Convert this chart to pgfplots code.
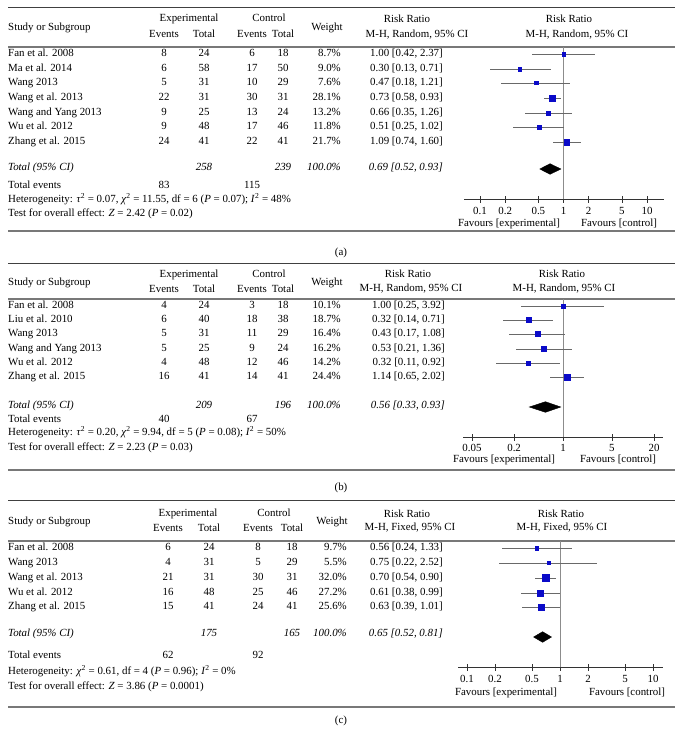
\documentclass[border=0pt]{standalone}
\usepackage{pgfplots}
\pgfplotsset{compat=1.18}
\usepackage{pgfplotstable}
\usepackage{fontspec}
\setmainfont{Liberation Serif}
\definecolor{sqblue}{RGB}{10,10,200}
\definecolor{cigray}{RGB}{105,105,105}
\definecolor{vgray}{RGB}{140,140,140}
\definecolor{rulegray}{RGB}{120,120,120}
\newcommand{\fs}{\fontsize{10.9}{12}\selectfont}

% y column = vertical position of the row (px from top of page)
\pgfplotstableread{
y rr lo hi w
54 1.00 0.42 2.37 8.7
69 0.30 0.13 0.71 9.0
83 0.47 0.18 1.21 7.6
98 0.73 0.58 0.93 28.1
113 0.66 0.35 1.26 13.2
127 0.51 0.25 1.02 11.8
142 1.09 0.74 1.60 21.7
}\dataA
\pgfplotstableread{
y rr lo hi w
306 1.00 0.25 3.92 10.1
320 0.32 0.14 0.71 18.7
334 0.43 0.17 1.08 16.4
349 0.53 0.21 1.36 16.2
363 0.32 0.11 0.92 14.2
377 1.14 0.65 2.02 24.4
}\dataB
\pgfplotstableread{
y rr lo hi w
548 0.56 0.24 1.33 9.7
563 0.75 0.22 2.52 5.5
578 0.70 0.54 0.90 32.0
593 0.61 0.38 0.99 27.2
607 0.63 0.39 1.01 25.6
}\dataC

\pgfplotsset{
  fplot/.style={
    scale only axis, anchor=south west,
    y dir=reverse, axis y line=none, axis x line=bottom,
    axis line style={-, black!80, line width=0.7pt},
    tick align=center, major tick length=7pt,
    tick style={black!80, line width=0.7pt},
    xminorticks=false,
    point meta min=0, point meta max=100,
    /pgf/number format/assume math mode=true,
    xticklabel style={font=\fs, yshift=-5pt},
    clip=false,
  },
  ci/.style={draw=none, mark=none, forget plot,
    error bars/.cd, x dir=both, x explicit, error mark=none,
    error bar style={cigray, line width=0.9pt}},
  sq/.style={only marks, mark=square*, scatter, point meta=\thisrow{w},
    scatter/@pre marker code/.code={%
      \pgfmathsetmacro\ms{0.6*sqrt(\pgfplotspointmetatransformed/10)}%
      \scope[mark size=\ms pt, draw=sqblue, fill=sqblue]},
    scatter/@post marker code/.code={\endscope}},
}

\begin{document}
\begin{tikzpicture}[x=1pt,y=1pt,every node/.style={font=\fs, inner sep=0pt}]
\path (0,0) rectangle (683,-744);

% ---------------- Panel (a) ----------------
\draw[black!75, line width=0.8pt] (8,-7) -- (675,-7);
\draw[rulegray, line width=1.3pt] (8,-47) -- (675,-47);
\draw[rulegray, line width=1.3pt] (8,-231) -- (675,-231);
\node[anchor=mid west] at (8,-28) {Study or Subgroup};
\node[anchor=mid] at (189,-19) {Experimental};
\node[anchor=mid] at (269,-19) {Control};
\node[anchor=mid] at (164,-35) {Events};
\node[anchor=mid] at (204,-35) {Total};
\node[anchor=mid] at (252,-35) {Events};
\node[anchor=mid] at (283,-35) {Total};
\node[anchor=mid] at (327,-28) {Weight};
\node[anchor=mid] at (407,-20) {Risk Ratio};
\node[anchor=mid] at (417,-35) {M-H, Random, 95\% CI};
\node[anchor=mid] at (569,-20) {Risk Ratio};
\node[anchor=mid] at (577,-35) {M-H, Random, 95\% CI};
\foreach \y/\s/\ee/\et/\ce/\ct/\w/\rr in {
  54/Fan et al. 2008/8/24/6/18/8.7/1.00 [0.42{,} 2.37],
  69/Ma et al. 2014/6/58/17/50/9.0/0.30 [0.13{,} 0.71],
  83/Wang 2013/5/31/10/29/7.6/0.47 [0.18{,} 1.21],
  98/Wang et al. 2013/22/31/30/31/28.1/0.73 [0.58{,} 0.93],
  113/Wang and Yang 2013/9/25/13/24/13.2/0.66 [0.35{,} 1.26],
  127/Wu et al. 2012/9/48/17/46/11.8/0.51 [0.25{,} 1.02],
  142/Zhang et al. 2015/24/41/22/41/21.7/1.09 [0.74{,} 1.60]} {
  \node[anchor=mid west] at (8,-\y) {\s};
  \node[anchor=mid] at (164,-\y) {\ee};
  \node[anchor=mid] at (204,-\y) {\et};
  \node[anchor=mid] at (252,-\y) {\ce};
  \node[anchor=mid] at (283,-\y) {\ct};
  \node[anchor=mid east] at (341,-\y) {\w\%};
  \node[anchor=mid east] at (443,-\y) {\rr};
}
\node[anchor=mid west] at (8,-168) {\itshape Total (95\% CI)};
\node[anchor=mid] at (204,-168) {\itshape 258};
\node[anchor=mid] at (283,-168) {\itshape 239};
\node[anchor=mid east] at (341,-168) {\itshape 100.0\%};
\node[anchor=mid east] at (443,-168) {\itshape 0.69 [0.52, 0.93]};
\node[anchor=mid west] at (8,-186) {Total events};
\node[anchor=mid] at (164,-186) {83};
\node[anchor=mid] at (252,-186) {115};
\node[anchor=mid west] at (8,-200) {Heterogeneity: \textit{τ}\textsuperscript{2} = 0.07, \textit{χ}\textsuperscript{2} = 11.55, df = 6 (\textit{P} = 0.07); \textit{I}\textsuperscript{2} = 48\%};
\node[anchor=mid west] at (8,-214) {Test for overall effect: \textit{Z} = 2.42 (\textit{P} = 0.02)};
\node[anchor=mid] at (509,-224) {Favours [experimental]};
\node[anchor=mid] at (619,-224) {Favours [control]};
\node[anchor=mid] at (341,-253) {(a)};

\begin{axis}[fplot, xmode=log, at={(464pt,-199pt)}, width=200pt, height=152pt,
  xmin=0.0643, xmax=15.98, ymin=47, ymax=199,
  xtick={0.1,0.2,0.5,1,2,5,10}, xticklabels={0.1,0.2,0.5,1,2,5,10}]
\addplot[vgray, line width=1pt] coordinates {(1,47) (1,199)};
\addplot[ci] table[x=rr, y=y, x error plus expr=\thisrow{hi}-\thisrow{rr}, x error minus expr=\thisrow{rr}-\thisrow{lo}] {\dataA};
\addplot[sq] table[x=rr, y=y] {\dataA};
\addplot[fill=black, draw=black] coordinates {(0.52,169) (0.69,163.7) (0.93,169) (0.69,174.3)} -- cycle;
\end{axis}

% ---------------- Panel (b) ----------------
\draw[black!75, line width=0.8pt] (8,-263) -- (675,-263);
\draw[rulegray, line width=1.3pt] (8,-299) -- (675,-299);
\draw[rulegray, line width=1.3pt] (8,-470) -- (675,-470);
\node[anchor=mid west] at (8,-283) {Study or Subgroup};
\node[anchor=mid] at (189,-275) {Experimental};
\node[anchor=mid] at (269,-275) {Control};
\node[anchor=mid] at (164,-290) {Events};
\node[anchor=mid] at (204,-290) {Total};
\node[anchor=mid] at (252,-290) {Events};
\node[anchor=mid] at (283,-290) {Total};
\node[anchor=mid] at (327,-283) {Weight};
\node[anchor=mid] at (408,-275) {Risk Ratio};
\node[anchor=mid] at (411,-289) {M-H, Random, 95\% CI};
\node[anchor=mid] at (562,-275) {Risk Ratio};
\node[anchor=mid] at (564,-289) {M-H, Random, 95\% CI};
\foreach \y/\s/\ee/\et/\ce/\ct/\w/\rr in {
  306/Fan et al. 2008/4/24/3/18/10.1/1.00 [0.25{,} 3.92],
  320/Liu et al. 2010/6/40/18/38/18.7/0.32 [0.14{,} 0.71],
  334/Wang 2013/5/31/11/29/16.4/0.43 [0.17{,} 1.08],
  349/Wang and Yang 2013/5/25/9/24/16.2/0.53 [0.21{,} 1.36],
  363/Wu et al. 2012/4/48/12/46/14.2/0.32 [0.11{,} 0.92],
  377/Zhang et al. 2015/16/41/14/41/24.4/1.14 [0.65{,} 2.02]} {
  \node[anchor=mid west] at (8,-\y) {\s};
  \node[anchor=mid] at (164,-\y) {\ee};
  \node[anchor=mid] at (204,-\y) {\et};
  \node[anchor=mid] at (252,-\y) {\ce};
  \node[anchor=mid] at (283,-\y) {\ct};
  \node[anchor=mid east] at (341,-\y) {\w\%};
  \node[anchor=mid east] at (445,-\y) {\rr};
}
\node[anchor=mid west] at (8,-406) {\itshape Total (95\% CI)};
\node[anchor=mid] at (204,-406) {\itshape 209};
\node[anchor=mid] at (283,-406) {\itshape 196};
\node[anchor=mid east] at (341,-406) {\itshape 100.0\%};
\node[anchor=mid east] at (445,-406) {\itshape 0.56 [0.33, 0.93]};
\node[anchor=mid west] at (8,-420) {Total events};
\node[anchor=mid] at (164,-420) {40};
\node[anchor=mid] at (252,-420) {67};
\node[anchor=mid west] at (8,-433) {Heterogeneity: \textit{τ}\textsuperscript{2} = 0.20, \textit{χ}\textsuperscript{2} = 9.94, df = 5 (\textit{P} = 0.08); \textit{I}\textsuperscript{2} = 50\%};
\node[anchor=mid west] at (8,-448) {Test for overall effect: \textit{Z} = 2.23 (\textit{P} = 0.03)};
\node[anchor=mid] at (504,-460) {Favours [experimental]};
\node[anchor=mid] at (618,-460) {Favours [control]};
\node[anchor=mid] at (341,-488) {(b)};

\begin{axis}[fplot, xmode=log, at={(463pt,-437pt)}, width=200pt, height=138pt,
  xmin=0.03718, xmax=26.9, ymin=299, ymax=437,
  xticklabel style={yshift=1.5pt},
  xtick={0.05,0.2,1,5,20}, xticklabels={0.05,0.2,1,5,20}]
\addplot[vgray, line width=1pt] coordinates {(1,299) (1,437)};
\addplot[ci] table[x=rr, y=y, x error plus expr=\thisrow{hi}-\thisrow{rr}, x error minus expr=\thisrow{rr}-\thisrow{lo}] {\dataB};
\addplot[sq] table[x=rr, y=y] {\dataB};
\addplot[fill=black, draw=black] coordinates {(0.33,407) (0.56,401.7) (0.93,407) (0.56,412.3)} -- cycle;
\end{axis}

% ---------------- Panel (c) ----------------
\draw[black!75, line width=0.8pt] (8,-500) -- (675,-500);
\draw[rulegray, line width=1.3pt] (8,-541) -- (675,-541);
\draw[rulegray, line width=1.3pt] (8,-707) -- (675,-707);
\node[anchor=mid west] at (8,-522) {Study or Subgroup};
\node[anchor=mid] at (188,-514) {Experimental};
\node[anchor=mid] at (274,-514) {Control};
\node[anchor=mid] at (168,-529) {Events};
\node[anchor=mid] at (209,-529) {Total};
\node[anchor=mid] at (258,-529) {Events};
\node[anchor=mid] at (292,-529) {Total};
\node[anchor=mid] at (332,-522) {Weight};
\node[anchor=mid] at (407,-515) {Risk Ratio};
\node[anchor=mid] at (410,-528) {M-H, Fixed, 95\% CI};
\node[anchor=mid] at (561,-515) {Risk Ratio};
\node[anchor=mid] at (562,-528) {M-H, Fixed, 95\% CI};
\foreach \y/\s/\ee/\et/\ce/\ct/\w/\rr in {
  548/Fan et al. 2008/6/24/8/18/9.7/0.56 [0.24{,} 1.33],
  563/Wang 2013/4/31/5/29/5.5/0.75 [0.22{,} 2.52],
  578/Wang et al. 2013/21/31/30/31/32.0/0.70 [0.54{,} 0.90],
  593/Wu et al. 2012/16/48/25/46/27.2/0.61 [0.38{,} 0.99],
  607/Zhang et al. 2015/15/41/24/41/25.6/0.63 [0.39{,} 1.01]} {
  \node[anchor=mid west] at (8,-\y) {\s};
  \node[anchor=mid] at (168,-\y) {\ee};
  \node[anchor=mid] at (209,-\y) {\et};
  \node[anchor=mid] at (258,-\y) {\ce};
  \node[anchor=mid] at (292,-\y) {\ct};
  \node[anchor=mid east] at (347,-\y) {\w\%};
  \node[anchor=mid east] at (443,-\y) {\rr};
}
\node[anchor=mid west] at (8,-634) {\itshape Total (95\% CI)};
\node[anchor=mid] at (209,-634) {\itshape 175};
\node[anchor=mid] at (292,-634) {\itshape 165};
\node[anchor=mid east] at (347,-634) {\itshape 100.0\%};
\node[anchor=mid east] at (443,-634) {\itshape 0.65 [0.52, 0.81]};
\node[anchor=mid west] at (8,-656) {Total events};
\node[anchor=mid] at (168,-656) {62};
\node[anchor=mid] at (258,-656) {92};
\node[anchor=mid west] at (8,-672) {Heterogeneity: \textit{χ}\textsuperscript{2} = 0.61, df = 4 (\textit{P} = 0.96); \textit{I}\textsuperscript{2} = 0\%};
\node[anchor=mid west] at (8,-687) {Test for overall effect: \textit{Z} = 3.86 (\textit{P} = 0.0001)};
\node[anchor=mid] at (506,-693) {Favours [experimental]};
\node[anchor=mid] at (627,-693) {Favours [control]};
\node[anchor=mid] at (341,-721) {(c)};

\begin{axis}[fplot, xmode=log, at={(458pt,-667pt)}, width=205pt, height=126pt,
  xmin=0.08, xmax=12.81, ymin=541, ymax=667,
  xtick={0.1,0.2,0.5,1,2,5,10}, xticklabels={0.1,0.2,0.5,1,2,5,10}]
\addplot[vgray, line width=1pt] coordinates {(1,541) (1,667)};
\addplot[ci] table[x=rr, y=y, x error plus expr=\thisrow{hi}-\thisrow{rr}, x error minus expr=\thisrow{rr}-\thisrow{lo}] {\dataC};
\addplot[sq] table[x=rr, y=y] {\dataC};
\addplot[fill=black, draw=black] coordinates {(0.52,637) (0.65,631.7) (0.81,637) (0.65,642.3)} -- cycle;
\end{axis}
\end{tikzpicture}
\end{document}
